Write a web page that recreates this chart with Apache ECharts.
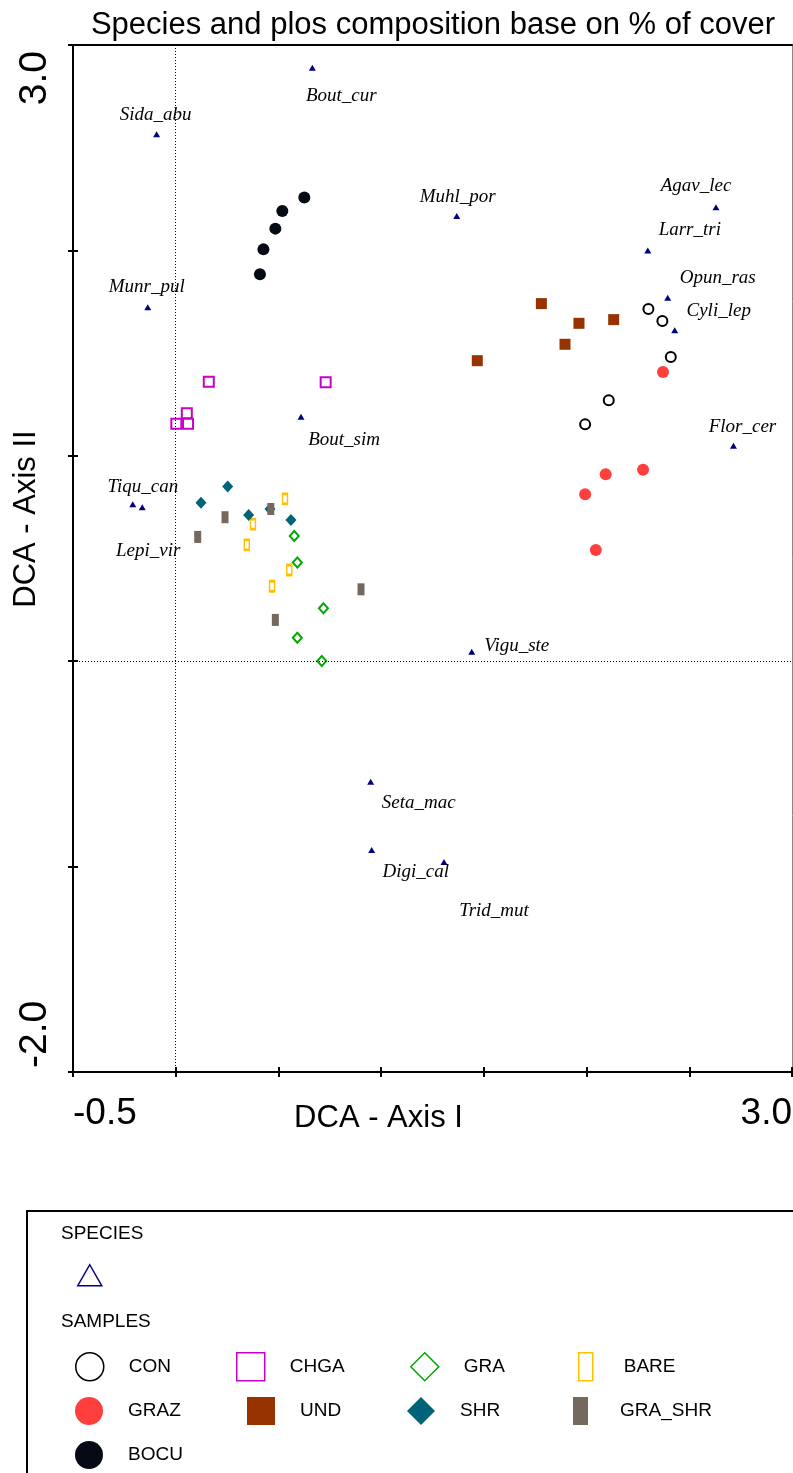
<!DOCTYPE html>
<html>
<head>
<meta charset="utf-8">
<script src="https://cdn.jsdelivr.net/npm/echarts@6/dist/echarts.min.js"></script>
<style>
html,body{margin:0;padding:0;background:#fff;}
#chart{width:793px;height:1473px;}
</style>
</head>
<body>
<div id="chart"></div>
<script>
// ---------------- DATA ----------------
const titleText = 'Species and plos composition base on % of cover';
const xAxisName = 'DCA - Axis I';
const yAxisName = 'DCA - Axis II';
const xTickLabels = ['-0.5', '3.0'];   // only end labels shown
const yTickLabels = ['-2.0', '3.0'];

const speciesNames = ['Bout_cur','Sida_abu','Muhl_por','Agav_lec','Larr_tri','Opun_ras','Cyli_lep','Munr_pul',
  'Bout_sim','Flor_cer','Tiqu_can','Lepi_vir','Vigu_ste','Seta_mac','Digi_cal','Trid_mut'];
const speciesX = [0.665,-0.093,1.368,2.630,2.298,2.395,2.429,-0.136,0.610,2.715,-0.209,-0.163,1.441,0.949,0.954,1.306];
const speciesY = [2.889,2.565,2.167,2.210,2.000,1.770,1.611,1.723,1.190,1.049,0.764,0.749,0.046,-0.587,-0.919,-0.978];

const CON     = [[2.301,1.715],[2.369,1.656],[2.410,1.481],[2.108,1.270],[1.993,1.153]];
const GRAZ    = [[2.372,1.408],[2.275,0.932],[2.093,0.910],[1.993,0.813],[2.045,0.541]];
const BOCU    = [[0.626,2.257],[0.519,2.192],[0.485,2.106],[0.427,2.005],[0.410,1.884]];
const CHGA    = [[0.161,1.361],[0.730,1.358],[0.054,1.207],[0.003,1.156],[0.060,1.156]];
const UND     = [[1.780,1.741],[1.963,1.645],[2.132,1.663],[1.895,1.543],[1.468,1.463]];
const GRA     = [[0.577,0.610],[0.592,0.480],[0.719,0.258],[0.592,0.114],[0.711,0.001]];
const SHR     = [[0.253,0.850],[0.123,0.772],[0.355,0.712],[0.459,0.741],[0.561,0.687]];
const BARE    = [[0.532,0.790],[0.376,0.667],[0.346,0.566],[0.553,0.444],[0.469,0.365]];
const GRA_SHR = [[0.240,0.701],[0.463,0.741],[0.107,0.605],[0.902,0.350],[0.485,0.201]];

// ---------------- STYLE / LAYOUT ----------------
const X_MIN = -0.5, X_MAX = 3.0, Y_MIN = -2.0, Y_MAX = 3.0;
// label offsets (px) of species names relative to their marker
const speciesLabelOffsets = [[29,28],[-1,-19],[1,-19],[-20,-21],[42,-20],[50,-20],[44,-19],[-1,-20],
  [43,23],[9,-19],[10,-17],[6,44],[45,-6],[48,21],[44,22],[50,49]];

const sampleStyles = {
  CON:     {symbol:'circle',  size:10,      fill:'#ffffff', stroke:'#000000', bw:2, data:CON},
  CHGA:    {symbol:'rect',    size:10,      fill:'#ffffff', stroke:'#C800C8', bw:2, data:CHGA},
  GRA:     {symbol:'diamond', size:[9,10],  fill:'#ffffff', stroke:'#00A800', bw:2, data:GRA},
  BARE:    {symbol:'rect',    size:[5,10],  fill:'#ffffff', stroke:'#FFC000', bw:2, data:BARE},
  GRAZ:    {symbol:'circle',  size:12,      fill:'#FF3E3E', stroke:null, bw:0, data:GRAZ},
  UND:     {symbol:'rect',    size:11,      fill:'#963300', stroke:null, bw:0, data:UND},
  SHR:     {symbol:'diamond', size:[11,12], fill:'#006377', stroke:null, bw:0, data:SHR},
  GRA_SHR: {symbol:'rect',    size:[7,12],  fill:'#75685C', stroke:null, bw:0, data:GRA_SHR},
  BOCU:    {symbol:'circle',  size:12,      fill:'#050A14', stroke:null, bw:0, data:BOCU}
};
// legend layout: [name, iconLeft, iconTop, iconW, iconH, textPadLeft]
const legendLayout = [
  ['CON', 75, 1352, 28, 28, 20], ['CHGA', 236, 1352, 28, 28, 20], ['GRA', 410, 1352, 28, 28, 20], ['BARE', 578, 1352, 14, 28, 26],
  ['GRAZ', 75, 1397, 28, 28, 20], ['UND', 247, 1397, 28, 28, 20], ['SHR', 407, 1397, 28, 28, 20], ['GRA_SHR', 573, 1397, 15, 28, 27],
  ['BOCU', 75, 1441, 28, 28, 20]
];

const SANS = "'Liberation Sans', Arial, sans-serif";
const SERIF = "'Liberation Serif', 'Times New Roman', serif";

const chart = echarts.init(document.getElementById('chart'), null, {renderer:'canvas'});

const speciesData = speciesNames.map((n, i) => ({
  name: n,
  value: [speciesX[i], speciesY[i]],
  label: {offset: speciesLabelOffsets[i]}
}));

const series = [{
  name: 'SPECIES',
  type: 'scatter',
  xAxisIndex: 0, yAxisIndex: 0,
  symbol: 'triangle',
  symbolSize: [7, 6],
  itemStyle: {color: '#000080', opacity: 1},
  data: speciesData,
  z: 3,
  label: {
    show: true, position: 'inside', formatter: '{b}',
    fontFamily: SERIF, fontStyle: 'italic', fontSize: 19, color: '#000', opacity: 1,
    align: 'center', verticalAlign: 'middle'
  },
  emphasis: {disabled: true},
  markLine: {
    silent: true, symbol: 'none', animation: false,
    label: {show: false},
    lineStyle: {type: [1, 2], color: '#000', width: 1, opacity: 1},
    emphasis: {disabled: true},
    data: [{xAxis: 0}, {yAxis: 0}]
  }
}];

Object.keys(sampleStyles).forEach(k => {
  const s = sampleStyles[k];
  series.push({
    name: k, type: 'scatter', xAxisIndex: 0, yAxisIndex: 0,
    symbol: s.symbol, symbolSize: s.size,
    itemStyle: s.stroke ? {color: s.fill, borderColor: s.stroke, borderWidth: s.bw, opacity: 1}
                        : {color: s.fill, borderWidth: 0, opacity: 1},
    emphasis: {disabled: true},
    z: 4,
    data: s.data
  });
});

const legends = [{
  data: [{name: 'SPECIES', icon: 'triangle', itemStyle: {color: '#ffffff', borderColor: '#000080', borderWidth: 1.5, opacity: 1}}],
  left: 77, top: 1264, itemWidth: 24, itemHeight: 21, padding: 0,
  selectedMode: false, formatter: () => '', textStyle: {fontSize: 1}
}];
legendLayout.forEach(l => {
  const s = sampleStyles[l[0]];
  legends.push({
    data: [{name: l[0], icon: s.symbol, itemStyle: s.stroke ? {color: '#ffffff', borderColor: s.stroke, borderWidth: 1.5, opacity: 1} : {color: s.fill, borderWidth: 0, opacity: 1}}],
    left: l[1], top: l[2], itemWidth: l[3], itemHeight: l[4], padding: 0,
    orient: 'horizontal', selectedMode: false,
    textStyle: {fontFamily: SANS, fontSize: 19, color: '#000', padding: [0, 0, 0, l[5]]}
  });
});

const xFmt = v => (v === X_MIN ? xTickLabels[0] : (v === X_MAX ? xTickLabels[1] : ''));
const yFmt = v => (v === Y_MIN ? yTickLabels[0] : (v === Y_MAX ? yTickLabels[1] : ''));

const option = {
  animation: false,
  backgroundColor: '#ffffff',
  title: {
    text: titleText, left: 428, top: 5, textAlign: 'center',
    textStyle: {fontFamily: SANS, fontSize: 31, fontWeight: 'normal', color: '#000'}
  },
  grid: {left: 73, right: 1, top: 45, bottom: 401, containLabel: false, outerBoundsMode: 'none'},
  legend: legends,
  xAxis: [
    {
      type: 'value', position: 'bottom', min: X_MIN, max: X_MAX, interval: 0.5,
      name: xAxisName, nameLocation: 'middle', nameGap: 31, nameMoveOverlap: false,
      nameTextStyle: {fontFamily: SANS, fontSize: 31, color: '#000', padding: [0, 108, 0, 0]},
      axisLine: {show: true, onZero: false, lineStyle: {color: '#000', width: 2}},
      axisTick: {show: true, inside: false, length: 5, lineStyle: {color: '#000', width: 2}},
      axisLabel: {show: true, formatter: xFmt, fontFamily: SANS, fontSize: 37, color: '#000', margin: 23,
        showMinLabel: true, showMaxLabel: true, alignMinLabel: 'left', alignMaxLabel: 'right'},
      splitLine: {show: false}
    },
    {
      type: 'value', position: 'bottom', min: X_MIN, max: X_MAX, interval: 0.5,
      axisLine: {show: false, onZero: false},
      axisTick: {show: true, inside: true, length: 5, lineStyle: {color: '#000', width: 2}},
      axisLabel: {show: false}, splitLine: {show: false}
    },
    {
      type: 'value', position: 'top', min: X_MIN, max: X_MAX, interval: 0.5,
      axisLine: {show: true, onZero: false, lineStyle: {color: '#000', width: 2}},
      axisTick: {show: false}, axisLabel: {show: false}, splitLine: {show: false}
    }
  ],
  yAxis: [
    {
      type: 'value', position: 'left', min: Y_MIN, max: Y_MAX, interval: 1,
      name: yAxisName, nameLocation: 'middle', nameGap: 31, nameRotate: 90, nameMoveOverlap: false,
      nameTextStyle: {fontFamily: SANS, fontSize: 31, color: '#000', padding: [0, 0, 0, 79]},
      axisLine: {show: true, onZero: false, lineStyle: {color: '#000', width: 2}},
      axisTick: {show: true, inside: false, length: 5, lineStyle: {color: '#000', width: 2}},
      axisLabel: {show: true, formatter: yFmt, rotate: 90, fontFamily: SANS, fontSize: 39, color: '#000', margin: 18,
        padding: [0, 6, 0, 4],
        showMinLabel: true, showMaxLabel: true, alignMinLabel: 'left', alignMaxLabel: 'right'},
      splitLine: {show: false}
    },
    {
      type: 'value', position: 'left', min: Y_MIN, max: Y_MAX, interval: 1,
      axisLine: {show: false, onZero: false},
      axisTick: {show: true, inside: true, length: 5, lineStyle: {color: '#000', width: 2}},
      axisLabel: {show: false}, splitLine: {show: false}
    },
    {
      type: 'value', position: 'right', min: Y_MIN, max: Y_MAX, interval: 1,
      axisLine: {show: true, onZero: false, lineStyle: {color: '#888', width: 1}},
      axisTick: {show: false}, axisLabel: {show: false}, splitLine: {show: false}
    }
  ],
  graphic: [
    {type: 'rect', shape: {x: 27, y: 1211, width: 800, height: 320}, style: {fill: 'none', stroke: '#000', lineWidth: 2}, silent: true},
    {type: 'text', x: 61, y: 1234, style: {text: 'SPECIES', font: '19px ' + SANS, fill: '#000', verticalAlign: 'middle'}, silent: true},
    {type: 'text', x: 61, y: 1322, style: {text: 'SAMPLES', font: '19px ' + SANS, fill: '#000', verticalAlign: 'middle'}, silent: true}
  ],
  series: series
};

chart.setOption(option);
</script>
</body>
</html>
